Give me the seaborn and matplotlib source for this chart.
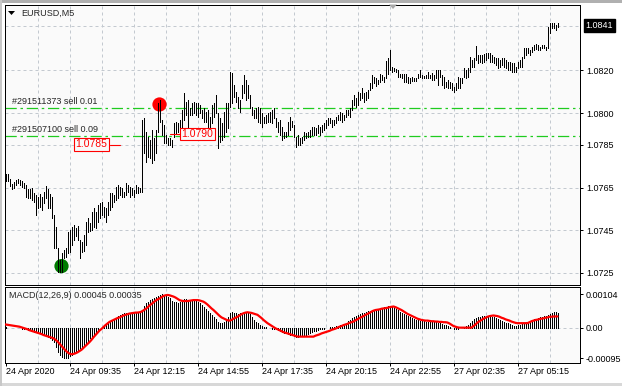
import numpy as np
import matplotlib
matplotlib.use("Agg")
import matplotlib.pyplot as plt
from matplotlib.patches import Polygon, Rectangle
import seaborn as sns

# ---------------- data ----------------
symbol_title = "EURUSD,M5"

bar_high = [
 1.07714,1.07714,1.07690,1.07667,1.07676,1.07686,1.07690,1.07686,1.07681,1.07672,
 1.07662,1.07644,1.07644,1.07648,1.07625,1.07615,1.07606,1.07620,1.07606,1.07630,
 1.07658,1.07644,1.07620,1.07606,1.07522,1.07465,1.07367,1.07311,1.07343,1.07357,
 1.07367,1.07442,1.07451,1.07465,1.07475,1.07461,1.07470,1.07404,1.07395,1.07428,
 1.07489,1.07508,1.07484,1.07536,1.07554,1.07536,1.07569,1.07578,1.07583,1.07559,
 1.07554,1.07583,1.07625,1.07625,1.07615,1.07653,1.07662,1.07653,1.07648,1.07630,
 1.07672,1.07662,1.07653,1.07648,1.07639,1.07662,1.07653,1.07648,1.07967,1.07977,
 1.07911,1.07887,1.07873,1.07920,1.07883,1.07920,1.08047,1.08061,1.07967,1.07944,
 1.07897,1.07883,1.07883,1.07873,1.07953,1.07958,1.07953,1.07967,1.08014,1.08094,
 1.08052,1.08061,1.08023,1.08047,1.08052,1.08047,1.08047,1.08038,1.08014,1.08023,
 1.08005,1.08014,1.07981,1.08038,1.08047,1.08084,1.08000,1.07977,1.07953,1.08005,
 1.08047,1.08047,1.08192,1.08188,1.08131,1.08099,1.08075,1.08061,1.08131,1.08178,
 1.08155,1.08131,1.08084,1.08028,1.08014,1.08023,1.08028,1.08023,1.08000,1.07981,
 1.07991,1.08000,1.08005,1.08014,1.08023,1.07977,1.07958,1.07967,1.07934,1.07911,
 1.07911,1.07958,1.07981,1.07963,1.07944,1.07887,1.07897,1.07883,1.07887,1.07911,
 1.07906,1.07911,1.07920,1.07934,1.07934,1.07930,1.07944,1.07934,1.07944,1.07953,
 1.07967,1.07977,1.07977,1.07967,1.07967,1.07981,1.07991,1.08005,1.08000,1.07991,
 1.08014,1.08014,1.08023,1.08061,1.08084,1.08070,1.08099,1.08094,1.08117,1.08094,
 1.08099,1.08108,1.08141,1.08178,1.08169,1.08164,1.08155,1.08183,1.08178,1.08169,
 1.08244,1.08258,1.08296,1.08216,1.08211,1.08206,1.08202,1.08183,1.08183,1.08183,
 1.08183,1.08169,1.08164,1.08169,1.08164,1.08164,1.08183,1.08202,1.08178,1.08174,
 1.08178,1.08192,1.08178,1.08188,1.08178,1.08202,1.08202,1.08202,1.08178,1.08169,
 1.08145,1.08155,1.08145,1.08141,1.08122,1.08141,1.08169,1.08164,1.08164,1.08211,
 1.08202,1.08211,1.08263,1.08249,1.08258,1.08314,1.08272,1.08272,1.08272,1.08277,
 1.08281,1.08281,1.08281,1.08272,1.08263,1.08258,1.08258,1.08249,1.08258,1.08258,
 1.08249,1.08239,1.08239,1.08235,1.08235,1.08216,1.08239,1.08249,1.08263,1.08305,
 1.08305,1.08305,1.08296,1.08310,1.08319,1.08324,1.08319,1.08310,1.08319,1.08319,
 1.08310,1.08403,1.08422,1.08422,1.08422,1.08413,1.08422]

bar_low = [
 1.07681,1.07681,1.07658,1.07644,1.07648,1.07662,1.07672,1.07662,1.07653,1.07648,
 1.07606,1.07601,1.07601,1.07592,1.07583,1.07522,1.07554,1.07559,1.07545,1.07578,
 1.07601,1.07554,1.07554,1.07508,1.07367,1.07367,1.07254,1.07254,1.07254,1.07320,
 1.07325,1.07343,1.07348,1.07381,1.07404,1.07423,1.07404,1.07320,1.07348,1.07353,
 1.07381,1.07442,1.07447,1.07451,1.07465,1.07461,1.07489,1.07508,1.07522,1.07512,
 1.07489,1.07522,1.07545,1.07559,1.07583,1.07592,1.07601,1.07615,1.07606,1.07606,
 1.07615,1.07630,1.07606,1.07615,1.07606,1.07625,1.07625,1.07630,1.07630,1.07812,
 1.07770,1.07794,1.07789,1.07766,1.07780,1.07812,1.07911,1.07958,1.07897,1.07859,
 1.07859,1.07850,1.07850,1.07841,1.07887,1.07906,1.07911,1.07906,1.07920,1.07967,
 1.07991,1.07934,1.07991,1.07991,1.08000,1.07991,1.07981,1.08000,1.07977,1.07958,
 1.07958,1.07934,1.07920,1.07953,1.07981,1.08000,1.07836,1.07864,1.07873,1.07887,
 1.07911,1.07930,1.08028,1.08047,1.08075,1.08052,1.08023,1.08005,1.08070,1.08094,
 1.08061,1.08070,1.08023,1.07991,1.07977,1.07977,1.07958,1.07953,1.07934,1.07953,
 1.07953,1.07958,1.07958,1.07953,1.07977,1.07934,1.07911,1.07897,1.07873,1.07883,
 1.07887,1.07897,1.07920,1.07934,1.07887,1.07841,1.07850,1.07850,1.07859,1.07873,
 1.07883,1.07887,1.07887,1.07897,1.07897,1.07897,1.07906,1.07897,1.07911,1.07920,
 1.07930,1.07944,1.07953,1.07934,1.07944,1.07953,1.07967,1.07967,1.07958,1.07967,
 1.07981,1.07991,1.07981,1.08014,1.08038,1.08028,1.08038,1.08061,1.08070,1.08052,
 1.08061,1.08070,1.08108,1.08117,1.08141,1.08127,1.08136,1.08145,1.08155,1.08145,
 1.08164,1.08183,1.08202,1.08192,1.08197,1.08192,1.08169,1.08169,1.08164,1.08145,
 1.08145,1.08141,1.08141,1.08150,1.08150,1.08150,1.08164,1.08169,1.08164,1.08164,
 1.08164,1.08164,1.08164,1.08155,1.08155,1.08164,1.08131,1.08169,1.08131,1.08117,
 1.08122,1.08117,1.08117,1.08108,1.08099,1.08108,1.08117,1.08117,1.08141,1.08169,
 1.08164,1.08169,1.08192,1.08216,1.08216,1.08249,1.08235,1.08239,1.08235,1.08239,
 1.08249,1.08258,1.08239,1.08239,1.08235,1.08225,1.08211,1.08216,1.08225,1.08216,
 1.08211,1.08202,1.08202,1.08192,1.08192,1.08192,1.08211,1.08216,1.08216,1.08258,
 1.08272,1.08281,1.08272,1.08286,1.08296,1.08300,1.08296,1.08296,1.08305,1.08305,
 1.08296,1.08305,1.08375,1.08399,1.08399,1.08389,1.08403]

# MACD main (histogram) and signal, in points (1e-5)
macd_main_pts = [
 1,0,0,-1,-1,-1,-2,-2,-3,-4,
 -5,-7,-8,-10,-12,-14,-15,-17,-20,-23,
 -26,-30,-33,-38,-44,-59,-75,-85,-92,-95,
 -95,-94,-89,-84,-79,-75,-70,-65,-59,-54,
 -49,-42,-33,-28,-23,-18,-9,-2,3,8,
 11,14,18,22,26,31,35,40,43,45,
 46,47,47,47,48,48,48,47,55,68,
 76,80,86,89,94,97,100,103,104,102,
 100,96,92,83,80,79,78,81,84,88,
 88,86,85,84,83,82,81,76,71,66,
 59,53,47,40,32,26,19,16,14,19,
 26,34,45,48,47,45,44,45,47,49,
 48,47,43,32,24,19,14,9,6,3,
 1,0,-2,-3,-3,-5,-7,-9,-12,-16,
 -18,-20,-23,-24,-26,-28,-28,-26,-25,-24,
 -23,-20,-16,-14,-11,-9,-7,-5,-4,-3,
 -1,0,1,2,3,5,6,7,9,11,
 16,20,24,29,32,36,40,43,45,47,
 49,51,53,55,56,57,58,60,62,63,
 66,67,68,67,63,59,55,50,47,43,
 40,36,33,30,27,25,23,21,20,20,
 19,19,19,18,18,17,16,14,11,9,
 7,5,2,-1,-3,-4,-3,-2,0,3,
 6,8,16,20,26,30,32,34,35,36,
 36,36,35,34,32,29,26,24,21,19,
 16,14,11,8,6,6,7,8,11,16,
 18,19,22,24,27,28,30,32,33,35,
 37,40,43,46,48,49,45]

macd_signal_pts = [
 10,9,8,7,6,5,4,3,1,-1,
 -3,-5,-8,-10,-12,-14,-16,-18,-20,-23,
 -25,-27,-29,-31,-33,-38,-43,-50,-57,-64,
 -71,-77,-81,-83,-82,-80,-77,-73,-69,-63,
 -57,-51,-45,-38,-30,-23,-16,-9,-4,2,
 8,13,18,21,24,27,30,32,35,38,
 40,42,44,45,46,47,47,48,50,54,
 58,63,69,74,79,84,88,91,95,99,
 101,102,101,99,97,94,90,86,84,83,
 83,83,84,85,86,86,86,85,83,81,
 77,72,66,60,55,49,43,37,32,29,
 26,23,22,24,28,31,34,38,42,45,
 47,48,47,46,44,42,40,35,30,24,
 19,14,10,6,2,-2,-5,-8,-11,-14,
 -16,-18,-20,-22,-24,-26,-28,-28,-28,-28,
 -28,-28,-28,-28,-28,-25,-23,-21,-18,-16,
 -14,-12,-10,-7,-5,-3,0,3,5,8,
 10,12,15,17,19,23,26,30,33,36,
 40,43,46,50,53,55,56,57,59,60,
 61,62,64,65,66,64,61,58,55,51,
 47,43,40,37,34,31,28,26,24,23,
 22,22,21,20,20,19,19,18,18,17,
 17,16,13,9,5,3,1,0,0,0,
 0,0,0,0,5,10,16,20,24,28,
 31,34,36,37,38,37,36,34,31,29,
 26,24,22,19,17,15,14,14,14,14,
 14,14,17,20,22,24,25,27,28,29,
 31,32,34,34,35,35,35]

time_tick_bars = [0, 32, 64, 96, 128, 160, 192, 224, 256]
time_tick_labels = ["24 Apr 2020", "24 Apr 09:35", "24 Apr 12:15", "24 Apr 14:55",
                    "24 Apr 17:35", "24 Apr 20:15", "24 Apr 22:55", "27 Apr 02:35",
                    "27 Apr 05:15"]
price_ticks = [1.0725, 1.0745, 1.0765, 1.0785, 1.0800, 1.0820]
bid_price = 1.0841
macd_ticks = [-0.00095, 0.0, 0.00104]
macd_tick_labels = ["-0.00095", "0.00", "0.00104"]
macd_caption = "MACD(12,26,9) 0.00045 0.00035"

order_prices = [1.08022, 1.07893]
order_labels = ["#291511373 sell 0.01", "#291507100 sell 0.09"]
price_label_values = [1.0785, 1.0790]
price_label_bars = [57, 82]
sell_arrow_bar, sell_arrow_price = 77, 1.08040
close_arrow_bar, close_arrow_price = 28, 1.07282

# ---------------- style ----------------
sns.set_theme(style="white")
plt.rcParams["font.family"] = ["Liberation Sans", "DejaVu Sans"]
plt.rcParams["axes.linewidth"] = 0.72

W, H = 622, 386
fig = plt.figure(figsize=(W / 100, H / 100), dpi=100)
fig.patch.set_facecolor("white")

def fxy(px, py):
    return (px / W, 1 - py / H)

BG = "#FAFAFA"
GRID = "#C3C9D0"
FS = 6.5
idx = np.arange(len(bar_high))
grid_bars = np.arange(16, 273, 16)

# ---------------- main price panel ----------------
ax = fig.add_axes([4.5 / W, 1 - 284.5 / H, 575 / W, 280 / H])
ax.set_facecolor(BG)
ax.set_xlim(-0.5, 287)
ax.set_ylim(1.071957, 1.085089)
for gx in grid_bars:
    ax.axvline(gx, color=GRID, lw=0.72, ls=(0, (3, 3)), zorder=0.5)
for gp in price_ticks + [bid_price]:
    ax.axhline(gp, color=GRID, lw=0.72, ls=(0, (3, 3)), zorder=0.5)

for op in order_prices:
    ax.axhline(op, color="#1FCB1F", lw=0.9, ls=(0, (9, 3, 2, 3)), zorder=1)

sns.scatterplot(x=[sell_arrow_bar], y=[sell_arrow_price], color="#FF0000", s=105,
                edgecolor="none", ax=ax, zorder=1.5, legend=False)
sns.scatterplot(x=[close_arrow_bar], y=[close_arrow_price], color="#007A00", s=105,
                edgecolor="none", ax=ax, zorder=1.5, legend=False)

ax.vlines(idx, bar_low, bar_high, colors="black", lw=0.5, antialiased=False, zorder=3)

for val, b, side in zip(price_label_values, price_label_bars, [-1, 1]):
    ax.plot([b, b + side * 5], [val, val], color="red", lw=0.8, zorder=4)
    ax.annotate(f"{val:.4f}", xy=(b + side * 5, val), xytext=(side * 18, 0.5),
                textcoords="offset pixels", ha="center", va="center",
                color="#FF0000", fontsize=7.5, zorder=5,
                bbox=dict(boxstyle="square,pad=0.12", fc=BG, ec="#FF0000", lw=0.8))

ax.yaxis.tick_right()
ax.set_yticks(price_ticks)
ax.set_yticklabels([f"{p:.4f}" for p in price_ticks])
ax.tick_params(axis="y", direction="out", length=2.2, width=0.72, pad=2.4,
               labelsize=FS, colors="black", right=True, left=False)
ax.set_xticks([])
for sp in ax.spines.values():
    sp.set_color("black"); sp.set_linewidth(0.72)

ax.annotate(f"{bid_price:.4f}", xy=(1, bid_price), xycoords=("axes fraction", "data"),
            xytext=(6, 0), textcoords="offset pixels", ha="left", va="center",
            color="white", fontsize=FS,
            bbox=dict(boxstyle="square,pad=0.2", fc="black", ec="black"))

# ---------------- MACD panel ----------------
ax2 = fig.add_axes([4.5 / W, 1 - 362.5 / H, 575 / W, 76 / H])
ax2.set_facecolor(BG)
ax2.set_xlim(-0.5, 287)
ax2.set_ylim(-0.001087, 0.001284)
for gx in grid_bars:
    ax2.axvline(gx, color=GRID, lw=0.72, ls=(0, (3, 3)), zorder=0.5)
ax2.axhline(0, color=GRID, lw=0.72, ls=(0, (3, 3)), zorder=0.5)

macd_main = np.array(macd_main_pts) * 1e-5
macd_signal = np.array(macd_signal_pts) * 1e-5
ax2.vlines(idx, 0, macd_main, colors="black", lw=0.5, antialiased=False, zorder=2)
sns.lineplot(x=idx, y=macd_signal, ax=ax2, color="#FF0000", lw=1.6, zorder=3)

ax2.yaxis.tick_right()
ax2.set_yticks(macd_ticks)
ax2.set_yticklabels(macd_tick_labels)
ax2.tick_params(axis="y", direction="out", length=2.2, width=0.72, pad=2.0,
                labelsize=FS, colors="black", right=True, left=False)
ax2.set_xticks(time_tick_bars)
ax2.set_xticklabels(time_tick_labels)
ax2.tick_params(axis="x", direction="out", length=2.2, width=0.72, pad=0.8,
                labelsize=FS, colors="black", bottom=True)
for lbl in ax2.get_xticklabels():
    lbl.set_ha("left")
ax2.set_xlabel(""); ax2.set_ylabel("")
for sp in ax2.spines.values():
    sp.set_color("black"); sp.set_linewidth(0.72)

# ---------------- texts & decorations ----------------
fig.text(*fxy(21, 13), symbol_title, fontsize=FS, va="center", ha="left")
fig.patches.append(Polygon([fxy(8, 11), fxy(15, 11), fxy(11.5, 15)], closed=True,
                           transform=fig.transFigure, fc="black", ec="none"))
fig.patches.append(Polygon([fxy(389, 4.5), fxy(397, 4.5), fxy(393, 9)], closed=True,
                           transform=fig.transFigure, fc="#A8A8A8", ec="none"))
fig.text(*fxy(12, 102), order_labels[0], fontsize=FS, va="center", ha="left")
fig.text(*fxy(12, 130), order_labels[1], fontsize=FS, va="center", ha="left")
fig.text(*fxy(9, 296), macd_caption, fontsize=FS, va="center", ha="left")

# window frame
fig.patches.append(Rectangle((0, 1 - 2.5 / H), 1, 2.5 / H, transform=fig.transFigure,
                             fc="#B0B0B0", ec="none"))
fig.patches.append(Rectangle((0, 0), 1, 3 / H, transform=fig.transFigure,
                             fc="#D8D8D8", ec="none"))
fig.patches.append(Rectangle((0, 0), 1.5 / W, 1, transform=fig.transFigure,
                             fc="#C8C8C8", ec="none"))

fig.savefig("out.png", dpi=100, facecolor=fig.get_facecolor())
